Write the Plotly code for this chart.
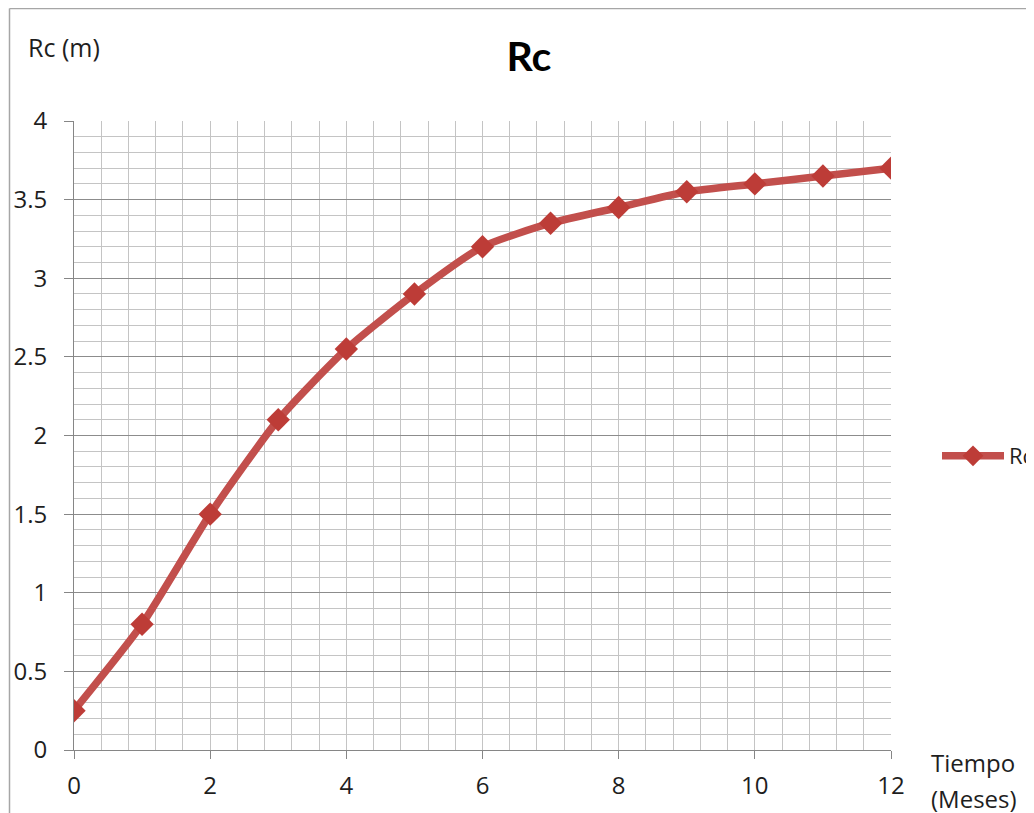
import plotly.graph_objects as go

months = [0, 1, 2, 3, 4, 5, 6, 7, 8, 9, 10, 11, 12]
rc_values = [0.25, 0.8, 1.5, 2.1, 2.55, 2.9, 3.2, 3.35, 3.45, 3.55, 3.6, 3.65, 3.7]
y_ticks = [0, 0.5, 1, 1.5, 2, 2.5, 3, 3.5, 4]
y_tick_labels = ["0", "0.5", "1", "1.5", "2", "2.5", "3", "3.5", "4"]
x_ticks = [0, 2, 4, 6, 8, 10, 12]
x_tick_labels = ["0", "2", "4", "6", "8", "10", "12"]

# the page body adds an 8px offset; screen coords -> figure coords
OFF = 8
W, H = 1034, 813
L = 74 - OFF
T = 121 - OFF
R = W - (891 - OFF)
B = H - (750 - OFF)
pw, ph = W - L - R, H - T - B

FONT = "Open Sans"
TXT = "#1e1e1e"

fig = go.Figure()
fig.add_trace(go.Scatter(
    x=months, y=rc_values, name="Rc", mode="lines+markers",
    line=dict(color="#c24f4c", width=7.5, shape="spline", smoothing=0.6),
    marker=dict(symbol="diamond", size=18, color="#bd3c37"),
))

def px2x(p):
    return (p - OFF - L) / pw

def py2y(p):
    return (H - B - (p - OFF)) / ph

fig.update_layout(
    width=W, height=H,
    margin=dict(l=L, r=R, t=T, b=B, autoexpand=False),
    paper_bgcolor="white", plot_bgcolor="white",
    font=dict(family=FONT, color=TXT, size=22),
    title=dict(text="<b>Rc</b>", x=px2x(529), xref="paper", xanchor="center",
               y=1 - (57 - OFF) / H, yanchor="middle", font=dict(family="Lato", size=41, color="#000000")),
    showlegend=True,
    legend=dict(x=px2x(937), xanchor="left", y=py2y(456), yanchor="middle",
                font=dict(size=22, color=TXT), bgcolor="rgba(0,0,0,0)", itemwidth=62),
    xaxis=dict(range=[0, 12], tickmode="array", tickvals=x_ticks, ticktext=x_tick_labels,
               showgrid=True, gridcolor="#c4c4c4", gridwidth=1,
               minor=dict(dtick=0.4, tick0=0, showgrid=True, gridcolor="#c4c4c4", gridwidth=1),
               ticks="outside", ticklen=8, tickcolor="#868686", tickwidth=1,
               showline=True, linecolor="#868686", linewidth=1, automargin=False,
               ticklabelstandoff=6,
               zeroline=False, fixedrange=True, tickfont=dict(size=24)),
    yaxis=dict(range=[0, 4], tickmode="array", tickvals=y_ticks, ticktext=y_tick_labels,
               showgrid=True, gridcolor="#8c8c8c", gridwidth=1,
               minor=dict(dtick=0.1, tick0=0, showgrid=True, gridcolor="#c4c4c4", gridwidth=1),
               ticks="outside", ticklen=9, tickcolor="#868686", tickwidth=1,
               showline=True, linecolor="#868686", linewidth=1, automargin=False,
               ticklabelstandoff=12,
               zeroline=False, fixedrange=True, tickfont=dict(size=24)),
)

fig.add_annotation(text="Rc (m)", xref="paper", yref="paper", x=px2x(26), y=py2y(47),
                   xanchor="left", yanchor="middle", showarrow=False,
                   font=dict(size=25, color=TXT))
fig.add_annotation(text="Tiempo", xref="paper", yref="paper", x=px2x(929), y=py2y(762),
                   xanchor="left", yanchor="middle", align="left", showarrow=False,
                   font=dict(size=24, color=TXT))
fig.add_annotation(text="(Meses)", xref="paper", yref="paper", x=px2x(929), y=py2y(798),
                   xanchor="left", yanchor="middle", align="left", showarrow=False,
                   font=dict(size=24, color=TXT))

# chart-area border (left and top edges visible)
fig.add_shape(type="line", xref="paper", yref="paper", x0=px2x(9.5), x1=px2x(1050),
              y0=py2y(8.5), y1=py2y(8.5), line=dict(color="#a6a6a6", width=1.5))
fig.add_shape(type="line", xref="paper", yref="paper", x0=px2x(9.5), x1=px2x(9.5),
              y0=py2y(8.5), y1=py2y(830), line=dict(color="#a6a6a6", width=1.5))

fig.write_html("out.html")
